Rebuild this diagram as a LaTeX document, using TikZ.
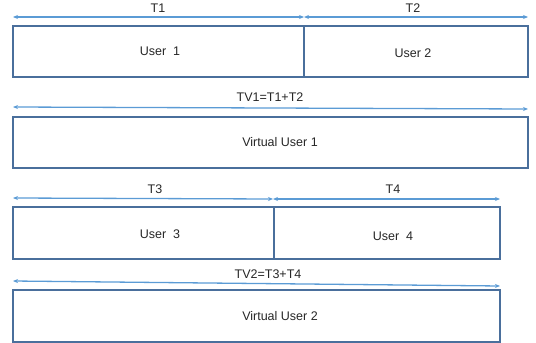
\documentclass[tikz,border=0pt]{standalone}
\usepackage{fontspec}
\setmainfont{Liberation Sans}
\usetikzlibrary{arrows.meta}
\definecolor{boxc}{HTML}{4A6F9C}
\definecolor{arrc}{HTML}{5B9BD5}
\tikzset{
  slot/.style={draw=boxc, line width=1.8pt},
  span/.style={draw=arrc, line width=1.3pt, {Stealth[length=5pt,width=4pt]}-{Stealth[length=5pt,width=4pt]}},
  lbl/.style={font=\fontsize{12.5}{14}\selectfont, text=black!85, inner sep=0pt},
}
\begin{document}
\begin{tikzpicture}[x=1pt,y=-1pt]
\useasboundingbox (0,0) rectangle (536,343);
% Row 1
\coordinate (a1) at (13,17); \coordinate (a1m) at (304,17); \coordinate (a1r) at (528,17);
\draw[span] (a1) -- (a1m);
\draw[span] (a1m) -- (a1r);
\node[lbl] (t1) at (158,8) {T1};
\node[lbl] (t2) at (413,8) {T2};
\draw[slot] (13,26) rectangle (304,77);
\draw[slot] (304,26) rectangle (528,77);
\node[lbl] (u1) at (160,51) {User\ \ 1};
\node[lbl] (u2) at (413,53) {User 2};
% Row 2
\coordinate (b1) at (13,107); \coordinate (b1r) at (528,109);
\draw[span] (b1) -- (b1r);
\node[lbl] (tv1) at (270,97) {TV1=T1+T2};
\draw[slot] (13,117) rectangle (528,168);
\node[lbl] (v1) at (280,142) {Virtual User 1};
% Row 3
\coordinate (c1) at (13,198); \coordinate (c1m) at (273,199); \coordinate (c1r) at (500,199);
\draw[span] (c1) -- (c1m);
\draw[span] (c1m) -- (c1r);
\node[lbl] (t3) at (155,189) {T3};
\node[lbl] (t4) at (393,189) {T4};
\draw[slot] (13,207) rectangle (274,259);
\draw[slot] (274,207) rectangle (500,259);
\node[lbl] (u3) at (160,234) {User\ \ 3};
\node[lbl] (u4) at (393,236) {User\ \ 4};
% Row 4
\coordinate (d1) at (13,281); \coordinate (d1r) at (500,286);
\draw[span] (d1) -- (d1r);
\node[lbl] (tv2) at (268,274) {TV2=T3+T4};
\draw[slot] (13,290) rectangle (500,342);
\node[lbl] (v2) at (280,316) {Virtual User 2};
\end{tikzpicture}
\end{document}
